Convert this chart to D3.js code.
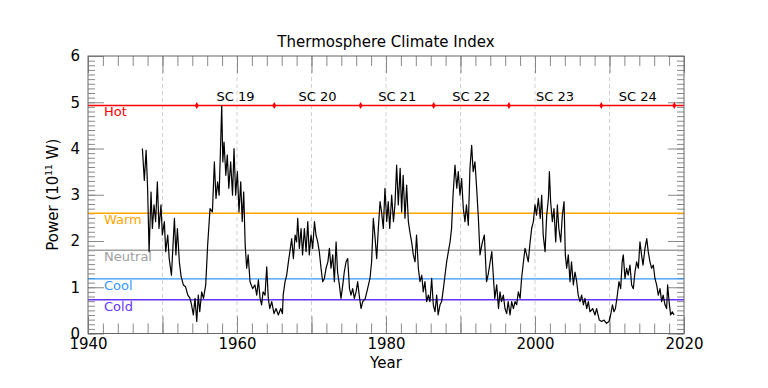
<!DOCTYPE html>
<html>
<head>
<meta charset="utf-8">
<script src="https://cdn.jsdelivr.net/npm/d3@7"></script>
<style>
  body { margin: 0; background: #fff; }
  text { font-family: "DejaVu Sans", sans-serif; }
</style>
</head>
<body>
<svg id="chart"></svg>
<script>
/* Thermosphere climate index, [year, power in 10^11 W] */
const tci = [
  [1947.3, 4.0], [1947.56, 3.31], [1947.8, 3.96], [1948.0, 3.14], [1948.2, 1.77],
  [1948.46, 3.06], [1948.64, 2.27], [1948.86, 2.78], [1949.08, 2.42], [1949.31, 3.28],
  [1949.53, 2.27], [1949.8, 2.78], [1949.98, 2.13], [1950.25, 2.42], [1950.43, 1.77],
  [1950.7, 2.13], [1950.9, 1.62], [1951.2, 1.26], [1951.6, 2.49], [1951.8, 1.7],
  [1952.0, 2.27], [1952.26, 1.55], [1952.5, 1.23], [1952.8, 1.05], [1953.1, 1.01],
  [1953.4, 0.83], [1953.7, 0.76], [1953.9, 0.62], [1954.14, 0.4], [1954.36, 0.76],
  [1954.6, 0.26], [1954.8, 0.83], [1955.0, 0.47], [1955.26, 0.9], [1955.5, 0.76],
  [1955.8, 1.05], [1956.06, 1.91], [1956.38, 2.7], [1956.7, 2.63], [1956.96, 3.71],
  [1957.18, 2.92], [1957.4, 3.28], [1957.6, 2.99], [1957.81, 4.14], [1957.95, 4.93],
  [1958.1, 3.71], [1958.26, 4.14], [1958.5, 3.42], [1958.7, 3.86], [1958.9, 3.14],
  [1959.15, 3.71], [1959.4, 2.99], [1959.6, 4.0], [1959.82, 2.99], [1960.05, 3.5],
  [1960.27, 2.63], [1960.5, 3.28], [1960.7, 2.42], [1960.9, 3.06], [1961.1, 1.91],
  [1961.3, 1.41], [1961.5, 1.7], [1961.75, 1.12], [1962.1, 0.97], [1962.4, 1.05],
  [1962.65, 0.83], [1962.87, 1.16], [1963.1, 0.76], [1963.3, 0.62], [1963.5, 0.9],
  [1963.76, 0.83], [1963.99, 1.44], [1964.2, 0.76], [1964.4, 0.54], [1964.66, 0.69],
  [1964.97, 0.43], [1965.24, 0.54], [1965.55, 0.4], [1965.87, 0.54], [1966.1, 0.43],
  [1966.2, 0.83], [1966.45, 1.12], [1966.67, 1.26], [1966.9, 1.55], [1967.1, 1.77],
  [1967.34, 2.05], [1967.57, 1.62], [1967.8, 2.13], [1968.0, 1.98], [1968.15, 2.49],
  [1968.37, 1.84], [1968.6, 2.27], [1968.8, 1.7], [1969.04, 2.27], [1969.27, 1.77],
  [1969.5, 2.42], [1969.7, 1.7], [1969.94, 2.13], [1970.16, 1.84], [1970.4, 2.42],
  [1970.6, 2.13], [1970.83, 1.98], [1971.05, 1.77], [1971.28, 1.41], [1971.5, 1.12],
  [1971.73, 1.19], [1971.95, 1.41], [1972.2, 1.55], [1972.4, 1.84], [1972.62, 1.41],
  [1972.85, 1.7], [1973.07, 1.12], [1973.3, 1.98], [1973.5, 1.33], [1973.74, 1.05],
  [1973.96, 0.76], [1974.2, 1.05], [1974.4, 1.33], [1974.64, 1.55], [1974.86, 1.62],
  [1975.1, 0.97], [1975.3, 0.83], [1975.53, 0.97], [1975.75, 0.76], [1975.98, 0.9],
  [1976.2, 1.12], [1976.4, 0.83], [1976.65, 0.54], [1976.87, 0.69], [1977.2, 0.75],
  [1977.5, 0.95], [1977.85, 1.19], [1978.07, 1.55], [1978.3, 2.49], [1978.5, 2.13],
  [1978.75, 1.62], [1978.97, 2.27], [1979.2, 2.85], [1979.4, 2.63], [1979.64, 2.27],
  [1979.86, 3.14], [1980.1, 2.42], [1980.3, 2.85], [1980.5, 2.27], [1980.76, 2.99],
  [1981.0, 2.42], [1981.2, 2.78], [1981.43, 3.64], [1981.65, 2.78], [1981.9, 3.57],
  [1982.1, 2.63], [1982.3, 3.42], [1982.55, 2.49], [1982.77, 3.21], [1983.0, 2.42],
  [1983.2, 2.2], [1983.44, 1.98], [1983.67, 1.7], [1983.9, 1.55], [1984.1, 2.13],
  [1984.34, 1.41], [1984.56, 1.12], [1984.8, 1.26], [1985.0, 0.9], [1985.23, 1.12],
  [1985.46, 0.69], [1985.68, 0.83], [1985.9, 0.69], [1986.13, 1.19], [1986.35, 0.62],
  [1986.58, 0.47], [1986.8, 0.83], [1987.0, 0.4], [1987.25, 0.62], [1987.47, 0.69],
  [1987.7, 0.97], [1987.92, 1.26], [1988.14, 1.55], [1988.37, 1.77], [1988.6, 1.98],
  [1988.8, 2.27], [1989.0, 2.99], [1989.26, 3.64], [1989.5, 3.14], [1989.7, 3.5],
  [1989.93, 2.99], [1990.15, 3.35], [1990.38, 2.7], [1990.6, 2.42], [1990.8, 2.78],
  [1991.05, 2.34], [1991.27, 3.57], [1991.5, 4.07], [1991.7, 3.5], [1991.94, 3.71],
  [1992.17, 3.14], [1992.4, 2.49], [1992.62, 1.7], [1992.9, 1.95], [1993.2, 2.13],
  [1993.5, 1.12], [1993.7, 1.26], [1994.2, 1.77], [1994.4, 1.26], [1994.6, 0.76],
  [1994.86, 1.05], [1995.1, 0.54], [1995.3, 0.9], [1995.5, 0.69], [1995.75, 0.83],
  [1995.97, 0.54], [1996.2, 0.43], [1996.4, 0.69], [1996.65, 0.4], [1996.87, 0.69],
  [1997.1, 0.54], [1997.32, 0.69], [1997.54, 0.62], [1997.76, 0.9], [1998.0, 0.76],
  [1998.2, 1.19], [1998.4, 1.48], [1998.66, 1.84], [1998.88, 1.7], [1999.1, 1.55],
  [1999.3, 1.91], [1999.55, 2.27], [1999.78, 2.42], [2000.0, 2.78], [2000.2, 2.56],
  [2000.45, 2.92], [2000.7, 2.49], [2000.9, 2.99], [2001.1, 2.13], [2001.35, 1.77],
  [2001.57, 2.56], [2001.8, 2.92], [2001.93, 3.5], [2002.1, 2.85], [2002.33, 2.42],
  [2002.55, 2.7], [2002.78, 1.98], [2003.0, 2.78], [2003.2, 2.27], [2003.45, 1.98],
  [2003.67, 2.56], [2003.9, 2.85], [2004.07, 1.7], [2004.25, 1.41], [2004.47, 1.7],
  [2004.7, 1.12], [2004.9, 1.55], [2005.15, 1.05], [2005.37, 1.33], [2005.6, 1.12],
  [2005.8, 0.83], [2006.04, 0.69], [2006.26, 0.83], [2006.5, 0.62], [2006.7, 0.76],
  [2006.94, 0.54], [2007.16, 0.69], [2007.38, 0.47], [2007.74, 0.54], [2008.05, 0.4],
  [2008.27, 0.54], [2008.63, 0.29], [2008.95, 0.26], [2009.26, 0.29], [2009.6, 0.22],
  [2009.93, 0.26], [2010.15, 0.4], [2010.4, 0.62], [2010.6, 0.47], [2010.8, 0.54],
  [2011.05, 0.83], [2011.27, 1.12], [2011.5, 0.97], [2011.7, 1.55], [2011.85, 1.7],
  [2012.08, 1.19], [2012.3, 1.41], [2012.5, 1.26], [2012.75, 1.48], [2012.97, 1.05],
  [2013.2, 0.97], [2013.42, 1.33], [2013.64, 1.55], [2013.87, 1.41], [2014.09, 1.98],
  [2014.3, 1.7], [2014.5, 1.48], [2014.76, 1.84], [2015.0, 2.05], [2015.2, 1.77],
  [2015.43, 1.55], [2015.66, 1.41], [2015.88, 1.48], [2016.1, 1.19], [2016.33, 1.05],
  [2016.55, 0.83], [2016.78, 0.97], [2017.0, 0.69], [2017.2, 0.83], [2017.45, 0.62],
  [2017.67, 0.54], [2017.8, 1.05], [2018.0, 0.69], [2018.2, 0.4], [2018.43, 0.47],
  [2018.66, 0.4]
];

/* Climate state thresholds */
const stateNames = ["Hot", "Warm", "Neutral", "Cool", "Cold"];
const stateLevels = [4.93, 2.6, 1.8, 1.18, 0.73];
const stateColors = ["#ff0000", "#ffa500", "#a0a0a0", "#3399ff", "#6633ff"];

/* Solar cycle boundaries and labels */
const cycleEdges = [1954.6, 1965.0, 1976.6, 1986.4, 1996.5, 2008.9, 2018.7];
const cycleNames = ["SC 19", "SC 20", "SC 21", "SC 22", "SC 23", "SC 24"];

const xLabelTicks = [1940, 1960, 1980, 2000, 2020];

/* dimensions */
const W = 768, H = 388;
const margin = { top: 56, right: 84, bottom: 54.5, left: 88 };
const width = W - margin.left - margin.right,
      height = H - margin.top - margin.bottom;

const svg = d3.select("#chart").attr("width", W).attr("height", H);
const g = svg.append("g").attr("transform", `translate(${margin.left}, ${margin.top})`);

const x = d3.scaleLinear().domain([1940, 2020]).range([0, width]);
const y = d3.scaleLinear().domain([0, 6]).range([height, 0]);

/* dashed decade gridlines */
g.append("g")
  .selectAll("line")
  .data(d3.range(1950, 2020, 10))
  .join("line")
  .attr("x1", d => x(d)).attr("x2", d => x(d))
  .attr("y1", 0).attr("y2", height)
  .attr("stroke", "#d0d0d0")
  .attr("stroke-dasharray", "4,3");

/* ticks, pointing inward on all four sides */
const tickColor = "#888";
const fmtYear = d => xLabelTicks.includes(d) ? d : "";

const axes = [
  { a: d3.axisBottom(x).tickValues(d3.range(1940, 2021, 2)).tickSize(-10).tickFormat(""), t: `translate(0, ${height})` },
  { a: d3.axisBottom(x).tickValues(d3.range(1940, 2021, 10)).tickSize(-17).tickPadding(5).tickFormat(fmtYear), t: `translate(0, ${height})` },
  { a: d3.axisTop(x).tickValues(d3.range(1940, 2021, 2)).tickSize(-10).tickFormat(""), t: "translate(0,0)" },
  { a: d3.axisTop(x).tickValues(d3.range(1940, 2021, 10)).tickSize(-17).tickFormat(""), t: "translate(0,0)" },
  { a: d3.axisLeft(y).tickValues(d3.range(0, 6.01, 0.1)).tickSize(-7).tickFormat(""), t: "translate(0,0)" },
  { a: d3.axisLeft(y).tickValues(d3.range(0, 7, 1)).tickSize(-16).tickPadding(8).tickFormat(d3.format("d")), t: "translate(0,0)" },
  { a: d3.axisRight(y).tickValues(d3.range(0, 6.01, 0.1)).tickSize(-7).tickFormat(""), t: `translate(${width}, 0)` },
  { a: d3.axisRight(y).tickValues(d3.range(0, 7, 1)).tickSize(-16).tickFormat(""), t: `translate(${width}, 0)` }
];

axes.forEach(ax => {
  const s = g.append("g").attr("transform", ax.t).call(ax.a);
  s.select(".domain").remove();
  s.selectAll(".tick line").attr("stroke", tickColor);
  s.selectAll(".tick text")
    .attr("fill", "#000")
    .style("font-size", "15px")
    .style("font-family", "DejaVu Sans");
});

/* threshold lines and labels */
stateLevels.forEach((v, i) => {
  g.append("line")
    .attr("x1", 0).attr("x2", width)
    .attr("y1", y(v)).attr("y2", y(v))
    .attr("stroke", stateColors[i])
    .attr("stroke-width", 1.3);
  g.append("text")
    .attr("x", 16).attr("y", y(v) + 11)
    .attr("fill", stateColors[i])
    .style("font-size", "13px")
    .text(stateNames[i]);
});

/* data line */
const line = d3.line()
  .x(d => x(d[0]))
  .y(d => y(d[1]));

g.append("path")
  .datum(tci)
  .attr("fill", "none")
  .attr("stroke", "#000")
  .attr("stroke-width", 1.2)
  .attr("stroke-linejoin", "round")
  .attr("d", line);

/* solar cycle markers and labels */
const hot = stateLevels[0];
g.append("g")
  .selectAll("path")
  .data(cycleEdges)
  .join("path")
  .attr("transform", d => `translate(${x(d)}, ${y(hot)})`)
  .attr("d", d3.symbol().type(d3.symbolDiamond).size(14))
  .attr("fill", "#ff0000");

g.append("g")
  .selectAll("text")
  .data(cycleNames)
  .join("text")
  .attr("x", (d, i) => x((cycleEdges[i] + cycleEdges[i + 1]) / 2))
  .attr("y", y(hot) - 4)
  .attr("text-anchor", "middle")
  .style("font-size", "13px")
  .text(d => d);

/* frame */
g.append("rect")
  .attr("width", width).attr("height", height)
  .attr("fill", "none")
  .attr("stroke", "#666");

/* title and axis labels */
svg.append("text")
  .attr("x", margin.left + width / 2).attr("y", 47)
  .attr("text-anchor", "middle")
  .style("font-size", "15px")
  .text("Thermosphere Climate Index");

svg.append("text")
  .attr("x", margin.left + width / 2).attr("y", 368)
  .attr("text-anchor", "middle")
  .style("font-size", "15px")
  .text("Year");

const yl = svg.append("text")
  .attr("transform", `translate(58, ${margin.top + height / 2}) rotate(-90)`)
  .attr("text-anchor", "middle")
  .style("font-size", "15px");
yl.append("tspan").text("Power (10");
yl.append("tspan").attr("dy", -6).style("font-size", "9px").text("11");
yl.append("tspan").attr("dy", 6).text(" W)");
</script>
</body>
</html>
